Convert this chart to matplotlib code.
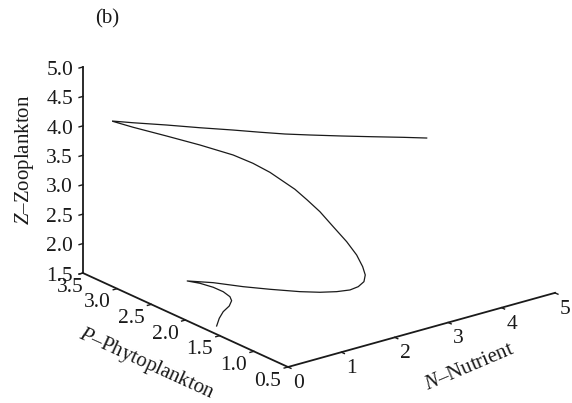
import matplotlib
matplotlib.use("Agg")
import matplotlib.pyplot as plt
from matplotlib.transforms import Affine2D
from mpl_toolkits.mplot3d import proj3d

plt.rcParams['font.family'] = ['Liberation Serif', 'DejaVu Serif']
plt.rcParams['mathtext.fontset'] = 'custom'
plt.rcParams['mathtext.it'] = 'Liberation Serif:italic'
plt.rcParams['mathtext.rm'] = 'Liberation Serif'

# Trajectory values
nutrient = [2.725, 2.479, 2.207, 1.965, 1.691, 1.543, 1.394, 1.208, 0.910, 0.670, 0.359, 0.152,
            0.301, 0.606, 0.910, 1.214, 1.391, 1.518, 1.730, 1.794, 1.878, 1.999, 2.097, 2.156,
            2.166, 2.151, 2.088, 1.956, 1.801, 1.577, 1.341, 1.056, 0.685, 0.442, 0.200, 0.033,
            0.053, 0.059, 0.067, 0.065, 0.058, 0.052, 0.067, 0.057, 0.072]
phyto = [0.60, 0.75, 1.00, 1.25, 1.50, 1.75, 2.00, 2.25, 2.50, 2.80, 3.05, 3.20,
         3.00, 2.75, 2.50, 2.25, 2.10, 1.95, 1.75, 1.62, 1.50, 1.40, 1.28, 1.18,
         1.10, 1.05, 1.02, 1.00, 1.00, 1.02, 1.08, 1.15, 1.30, 1.50, 1.75, 2.00,
         1.83, 1.64, 1.50, 1.40, 1.37, 1.40, 1.50, 1.55, 1.60]
zoo = [4.650, 4.644, 4.590, 4.530, 4.483, 4.404, 4.339, 4.290, 4.271, 4.218, 4.202, 4.204,
       4.166, 4.074, 3.978, 3.864, 3.759, 3.653, 3.418, 3.289, 3.133, 2.901, 2.686, 2.498,
       2.340, 2.229, 2.147, 2.106, 2.089, 2.106, 2.123, 2.168, 2.222, 2.221, 2.217, 2.155,
       2.201, 2.233, 2.230, 2.199, 2.149, 2.044, 1.891, 1.754, 1.593]

n_ticks = [0, 1, 2, 3, 4, 5]
p_ticks = [0.5, 1.0, 1.5, 2.0, 2.5, 3.0, 3.5]
z_ticks = [1.5, 2.0, 2.5, 3.0, 3.5, 4.0, 4.5, 5.0]

W, H = 572, 403
fig = plt.figure(figsize=(W / 100, H / 100), dpi=100)
ax = fig.add_axes([0, 0, 1, 1], projection='3d', proj_type='ortho')
ax.view_init(elev=20.9, azim=-127.9)
ax.set_xlim(0, 5, view_margin=0)
ax.set_ylim(0.5, 3.5, view_margin=0)
ax.set_zlim(1.5, 5, view_margin=0)
aspect = (338.3, 333.8, 220.5)

ax.plot(nutrient, phyto, zoo, color='#1a1a1a', lw=0.9)

ax.set_xticks(n_ticks)
ax.set_yticks(p_ticks)
ax.set_zticks(z_ticks)
ax.set_xticklabels([str(v) for v in n_ticks])
ax.set_yticklabels([f'{v:.1f}' for v in p_ticks])
ax.set_zticklabels([f'{v:.1f}' for v in z_ticks])
ax.tick_params(labelsize=15.5, colors='#1a1a1a')
ax.tick_params(axis='x', pad=4)
ax.tick_params(axis='y', pad=4)
ax.tick_params(axis='z', pad=2)
ax.grid(False)
for axis in (ax.xaxis, ax.yaxis, ax.zaxis):
    axis.set_pane_color((1, 1, 1, 0))
    axis.pane.set_edgecolor('none')
    axis.line.set_color('#1a1a1a')
    axis.line.set_linewidth(1.3)
    axis._axinfo['tick']['inward_factor'] = 0.18
    axis._axinfo['tick']['outward_factor'] = 0.0
    axis._axinfo['tick']['linewidth'] = {True: 1.0, False: 1.0}

ax.set_xlabel(r'$\mathit{N}$–Nutrient', fontsize=15, labelpad=0, color='#1a1a1a')
ax.set_ylabel(r'$\mathit{P}$–Phytoplankton', fontsize=15, labelpad=0, color='#1a1a1a')
ax.set_zlabel(r'$\mathit{Z}$–Zooplankton', fontsize=15, labelpad=0, color='#1a1a1a')
fig.text(107 / W, 1 - 18.5 / H, '(b)', fontsize=15, ha='center', va='center', color='#1a1a1a')


def screen(x, y, z):
    px, py, _ = proj3d.proj_transform(x, y, z, ax.get_proj())
    return ax.transData.transform((px, py))


# Fit the projected box on the figure
zoom = 1.0
for _ in range(3):
    ax.set_box_aspect(aspect, zoom=zoom)
    fig.canvas.draw()
    a = screen(0, 0.5, 1.5)
    b = screen(5, 0.5, 1.5)
    zoom *= 267.0 / (b[0] - a[0])
ax.set_box_aspect(aspect, zoom=zoom)
fig.canvas.draw()
a = screen(0, 0.5, 1.5)
dx = 288 - a[0]
dy = (H - 367) - a[1]
ax.set_position([dx / W, dy / H, 1, 1])


# Fine placement of tick labels and axis labels (pixels, y up)
def shifted(px, py):
    return ax.transData + Affine2D().translate(px, py)


def nudge_tick_labels(axis, px, py, extra=None):
    # Axis3D.get_major_ticks resets the transforms, so reapply after it
    original = axis.get_major_ticks
    extra = extra or {}

    def patched(numticks=None):
        ticks = original(numticks)
        for i, tick in enumerate(ticks):
            ex, ey = extra.get(i, (0, 0))
            tick.label1.set_transform(shifted(px + ex, py + ey))
        return ticks

    axis.get_major_ticks = patched


def place_label(label, px, py, rotation=None):
    # Axis3D.draw resets the label transform and rotation just before drawing it
    original = label.draw

    def draw(renderer):
        label._transform = shifted(px, py)
        if rotation is not None:
            label.set_rotation(rotation)
        original(renderer)

    label.draw = draw


nudge_tick_labels(ax.xaxis, -6, 17)
nudge_tick_labels(ax.yaxis, 1, 17.5, extra={6: (8, 0)})
nudge_tick_labels(ax.zaxis, 8, 5)
place_label(ax.xaxis.label, 20, 4, rotation=23)
place_label(ax.yaxis.label, -2, -5, rotation=-24.5)
place_label(ax.zaxis.label, 7, 7)

fig.savefig('out.png', dpi=100)
